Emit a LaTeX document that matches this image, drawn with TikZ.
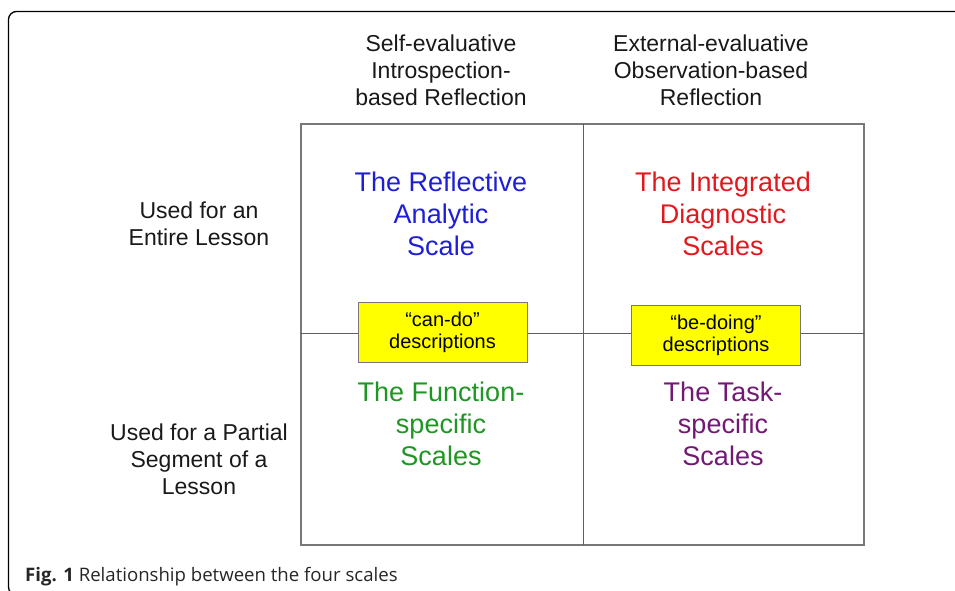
\documentclass[tikz,border=0pt]{standalone}
\usepackage{fontspec}
\setmainfont{Liberation Sans}
\newfontfamily\capfont{Open Sans}
\usepackage{xcolor}
\definecolor{scaleblue}{RGB}{30,30,215}
\definecolor{scalered}{RGB}{225,25,30}
\definecolor{scalegreen}{RGB}{30,150,35}
\definecolor{scalepurple}{RGB}{115,25,115}
\definecolor{descyellow}{RGB}{255,255,0}
\definecolor{gridgray}{RGB}{120,120,120}

\begin{document}
\begin{tikzpicture}[x=1pt,y=-1pt,line cap=round,
  head/.style={align=center,font=\fontsize{23}{27}\selectfont,text=black!90},
  scaletext/.style={align=center,font=\fontsize{27}{32}\selectfont},
  desc/.style={draw=gridgray,fill=descyellow,line width=1pt,minimum width=169pt,
    minimum height=60pt,inner sep=0pt,align=center,font=\fontsize{20}{22}\selectfont}]
\useasboundingbox (0,0) rectangle (955,590);
% outer frame, its right and bottom sides fall outside the page
\draw[line width=1.3pt,rounded corners=8pt] (8.5,11.5) rectangle (965,595);

% the 2x2 grid
\coordinate (nw) at (301,124);
\coordinate (se) at (864,545);
\coordinate (ntop) at (583,124);
\coordinate (nbot) at (583,545);
\coordinate (wmid) at (301,333);
\coordinate (emid) at (864,333);
\draw[gridgray,line width=1.6pt] (nw) rectangle (se);
\draw[gridgray!80!black,line width=1pt] (ntop) -- (nbot);
\draw[gridgray!80!black,line width=1pt] (wmid) -- (emid);

% column and row headings
\node[head] (selfhead) at (441,70) {Self-evaluative\\Introspection-\\based Reflection};
\node[head] (exthead) at (711,70) {External-evaluative\\Observation-based\\Reflection};
\node[head] (entire) at (199,224) {Used for an\\Entire Lesson};
\node[head] (partial) at (199,459) {Used for a Partial\\Segment of a\\Lesson};

% the four scales
\node[scaletext,text=scaleblue] (reflective) at (441,214) {The Reflective\\Analytic\\Scale};
\node[scaletext,text=scalered] (integrated) at (723,214) {The Integrated\\Diagnostic\\Scales};
\node[scaletext,text=scalegreen] (function) at (441,424) {The Function-\\specific\\Scales};
\node[scaletext,text=scalepurple] (task) at (723,424) {The Task-\\specific\\Scales};

% descriptions on the middle line
\node[desc] (cando) at (442.5,332) {“can-do”\\descriptions};
\node[desc] (bedoing) at (716,335) {“be-doing”\\descriptions};

% caption
\node[anchor=base west,inner sep=0pt,font=\capfont\fontsize{18.6}{22}\selectfont,text=black!85]
  (caption) at (25,581) {\textbf{Fig. 1} Relationship between the four scales};
\end{tikzpicture}
\end{document}
